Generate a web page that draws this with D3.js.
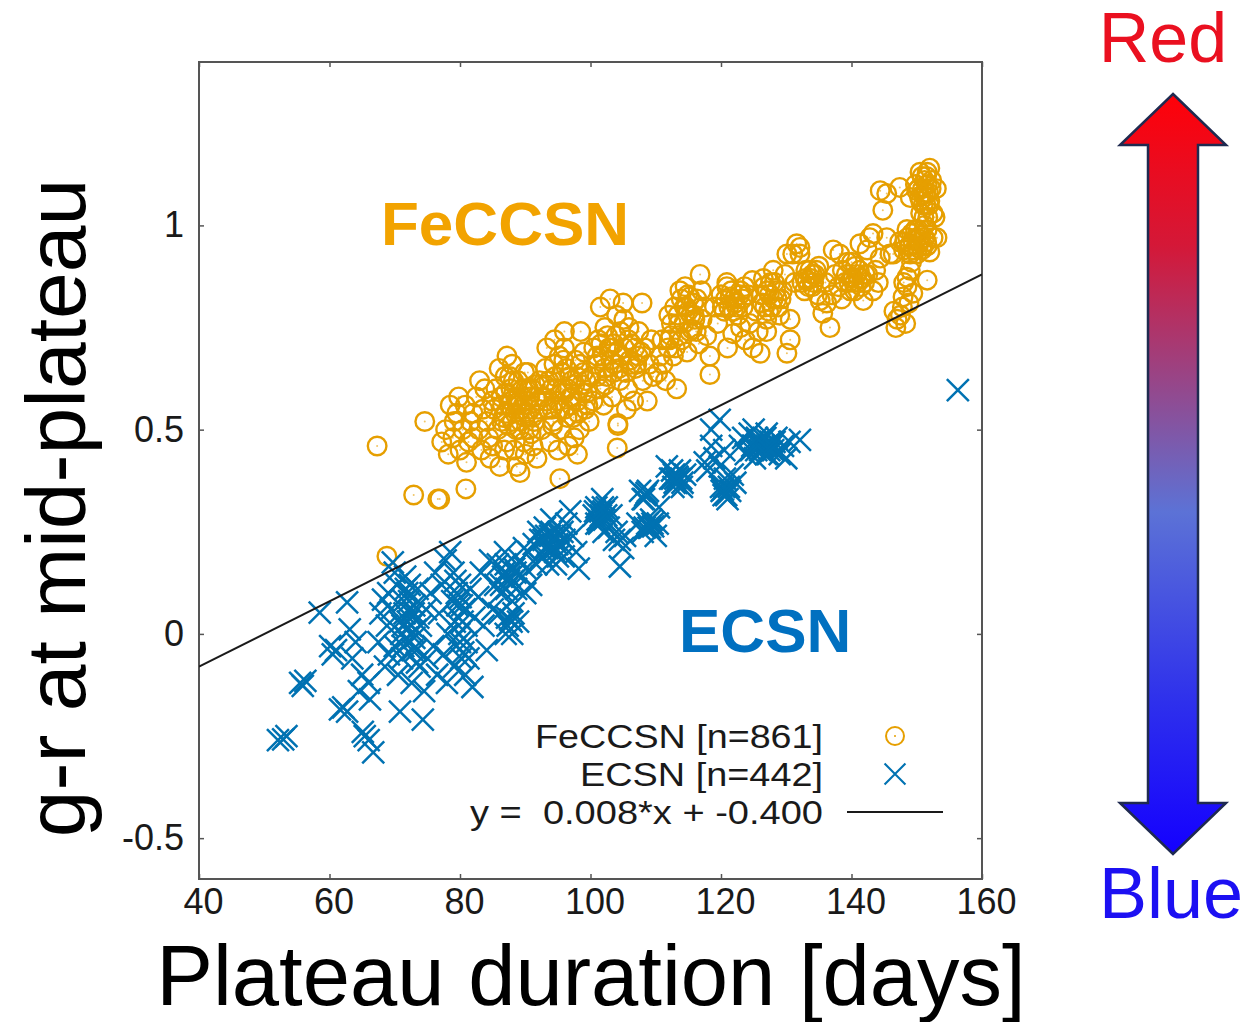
<!DOCTYPE html>
<html><head><meta charset="utf-8">
<script src="https://cdn.jsdelivr.net/npm/d3@7"></script>
<style>
html,body{margin:0;padding:0;background:#fff;}
svg{display:block;font-family:"Liberation Sans",Arial,Helvetica,sans-serif;}
</style></head>
<body>
<svg id="chart" width="1248" height="1022"></svg>
<script>
// ---------- data ----------
const xTicks = [40, 60, 80, 100, 120, 140, 160];
const yTicks = [-0.5, 0, 0.5, 1];
const xTickLabels = ["40", "60", "80", "100", "120", "140", "160"];
const yTickLabels = ["-0.5", "0", "0.5", "1"];
const fitSlope = 0.008;
const fitIntercept = -0.400;
const legendLabels = ["FeCCSN [n=861]", "ECSN [n=442]", "y =  0.008*x + -0.400"];

// FeCCSN: [plateau duration, g-r]
const feccsn = [
[67.3,0.46],[74.6,0.52],[72.9,0.34],[76.6,0.33],[76.9,0.33],[80.9,0.355],[68.8,0.19],[95.3,0.38],[104.1,0.455],[104.2,0.51],
[77.2,0.47],[77.8,0.50],[78.2,0.44],[78.9,0.48],[79.5,0.54],[79.1,0.52],[80.0,0.45],[80.4,0.50],[80.8,0.56],[81.3,0.47],[81.6,0.52],[82.0,0.54],[82.0,0.48],[82.5,0.58],[82.9,0.50],[83.3,0.45],[83.8,0.60],[83.5,0.55],[84.1,0.52],[84.4,0.48],[84.6,0.43],[84.9,0.57],[79.8,0.58],[81.0,0.42],[78.5,0.56],[83.0,0.62],
[85.2,0.55],[85.5,0.60],[85.8,0.50],[86.1,0.41],[86.3,0.58],[86.6,0.53],[86.9,0.63],[87.2,0.68],[87.2,0.47],[87.5,0.56],[87.8,0.60],[88.0,0.52],[88.3,0.45],[88.5,0.58],[88.7,0.41],[88.7,0.565],[88.9,0.62],[89.1,0.50],[89.2,0.395],[89.4,0.55],[89.6,0.60],[89.8,0.47],[90.0,0.53],[90.2,0.57],[90.4,0.64],[90.6,0.50],[90.8,0.55],[91.0,0.60],[91.2,0.46],[91.4,0.52],[91.6,0.58],[91.8,0.43],[92.0,0.55],[92.2,0.62],[86.0,0.65],[88.0,0.66],[90.0,0.44],[89.0,0.57],[87.0,0.54],[90.5,0.60],[85.0,0.46],[86.8,0.45],
[92.5,0.50],[92.8,0.58],[93.1,0.65],[93.3,0.70],[93.5,0.55],[93.8,0.47],[94.0,0.60],[94.3,0.52],[94.6,0.63],[94.9,0.57],[95.2,0.68],[95.4,0.50],[95.7,0.60],[96.0,0.55],[96.3,0.65],[96.6,0.46],[96.9,0.58],[97.1,0.62],[97.4,0.53],[97.7,0.67],[98.0,0.57],[98.3,0.50],[98.6,0.61],[98.9,0.64],[99.2,0.55],[99.5,0.59],[99.8,0.52],[100.1,0.63],[100.4,0.57],[94.5,0.72],[96.0,0.70],[97.5,0.48],[95.0,0.45],[98.0,0.44],[99.0,0.69],[93.0,0.61],[96.5,0.60],[97.0,0.56],
[100.5,0.70],[100.8,0.66],[101.2,0.72],[101.5,0.60],[101.9,0.68],[102.2,0.75],[102.5,0.63],[102.8,0.70],[103.0,0.70],[103.3,0.58],[103.6,0.66],[103.9,0.73],[104.2,0.515],[104.5,0.62],[104.8,0.68],[105.1,0.77],[105.4,0.64],[105.7,0.60],[106.0,0.67],[106.3,0.71],[106.6,0.57],[106.9,0.65],[107.1,0.66],[107.4,0.74],[107.7,0.69],[108.0,0.62],[108.3,0.70],[108.7,0.57],[109.0,0.66],[109.3,0.72],[109.6,0.63],[102.0,0.56],[104.0,0.78],[105.5,0.55],[101.0,0.63],[103.5,0.64],
[107.9,0.81],[101.5,0.80],[103.0,0.82],[98.5,0.74],[105.0,0.81],[96.0,0.74],
[110.3,0.64],[110.7,0.68],[111.1,0.66],[111.5,0.62],[111.9,0.70],[112.3,0.73],[112.7,0.68],[113.2,0.60],[113.5,0.76],[113.7,0.84],[114.0,0.72],[114.4,0.80],[114.8,0.69],[115.2,0.825],[115.2,0.74],[115.6,0.745],[115.9,0.78],[116.3,0.82],[116.6,0.71],[116.8,0.88],[117.1,0.77],[117.5,0.80],[117.8,0.73],[118.3,0.68],[118.3,0.635],[112.0,0.78],[114.5,0.85],[116.0,0.77],[113.0,0.70],[115.0,0.79],[111.0,0.72],[117.0,0.84],
[119.0,0.80],[119.5,0.76],[120.0,0.83],[120.5,0.79],[120.9,0.86],[120.9,0.85],[121.4,0.825],[121.8,0.735],[122.2,0.81],[122.6,0.78],[123.0,0.84],[123.4,0.80],[123.7,0.72],[124.1,0.83],[124.4,0.76],[124.8,0.865],[124.9,0.70],[125.3,0.79],[125.7,0.74],[126.0,0.687],[126.3,0.81],[126.6,0.85],[127.0,0.77],[127.4,0.83],[127.8,0.80],[128.2,0.86],[128.6,0.82],[129.0,0.78],[129.4,0.84],[129.8,0.88],[130.1,0.687],[130.1,0.93],[130.6,0.77],[130.6,0.72],[131.0,0.93],[131.3,0.86],[121.0,0.70],[123.0,0.75],[127.0,0.74],[128.0,0.89],
[131.6,0.955],[132.1,0.946],[132.1,0.93],[132.4,0.86],[132.8,0.84],[133.2,0.865],[133.6,0.89],[134.0,0.85],[134.4,0.88],[134.8,0.83],[135.2,0.816],[135.6,0.785],[136.0,0.86],[136.2,0.81],[136.7,0.75],[137.2,0.94],[137.5,0.88],[138.0,0.85],[138.2,0.93],[138.6,0.89],[139.0,0.86],[139.4,0.91],[139.8,0.84],[140.2,0.873],[140.6,0.90],[141.0,0.86],[141.3,0.955],[141.8,0.816],[142.1,0.88],[142.4,0.94],[142.8,0.97],[143.3,0.98],[143.3,0.84],[143.7,0.89],[144.1,0.86],[144.4,0.92],[138.5,0.82],[140.0,0.91],[135.0,0.90],[137.0,0.83],
[144.4,1.085],[144.8,1.037],[145.4,1.078],[145.4,0.97],[145.9,0.93],[146.4,0.93],[147.4,1.093],[149.0,1.068],[152.0,1.14],[151.6,1.13],[151.6,1.10],[151.8,1.08],[151.4,1.05],[151.7,1.02],[151.6,0.99],[152.3,1.11],[152.5,1.03],[150.8,1.12],[150.3,1.09],[150.0,1.085],[150.6,1.06],[149.8,1.10],[151.0,1.075],[152.0,1.06],[151.2,1.00],
[147.4,0.96],[148.0,0.94],[148.6,0.97],[149.0,0.95],[149.4,0.963],[149.8,0.99],[150.2,0.945],[150.6,0.975],[151.0,0.95],[151.5,0.96],[152.0,0.935],[152.5,0.97],[153.1,0.97],[148.5,0.99],[150.0,0.93],
[149.0,0.89],[148.5,0.873],[148.5,0.85],[147.9,0.825],[149.4,0.834],[151.6,0.866],[147.0,0.77],[146.5,0.79],[147.8,0.80],[148.3,0.76],[146.8,0.75],[147.5,0.78],[148.8,0.81],[148.0,0.86],[149.2,0.91],
[152.8,1.02],[153.0,1.09],[150.5,1.13],
[86.5,0.56],[87.0,0.59],[87.4,0.51],[87.9,0.57],[88.2,0.62],[88.4,0.54],[88.9,0.58],[89.3,0.52],[89.7,0.56],[90.1,0.60],[90.3,0.54],[90.7,0.58],[91.1,0.53],[91.5,0.61],[89.9,0.64],[88.6,0.50],[87.6,0.63],[86.4,0.52],[90.9,0.49],[91.9,0.57],
[93.2,0.57],[93.6,0.62],[94.1,0.55],[94.4,0.66],[94.8,0.60],[95.3,0.55],[95.6,0.64],[96.1,0.59],[96.4,0.53],[96.8,0.63],[97.2,0.58],[97.6,0.61],[98.1,0.54],[98.4,0.66],[98.8,0.59],[99.3,0.62],[99.6,0.56],[95.9,0.67],[97.9,0.63],[94.2,0.51],
[101.0,0.68],[101.6,0.71],[102.1,0.65],[102.6,0.73],[103.1,0.67],[103.6,0.71],[104.1,0.69],[104.6,0.74],[105.2,0.70],[105.8,0.72],[106.2,0.66],[106.8,0.70],[107.3,0.68],[104.4,0.65],[102.3,0.61],[105.9,0.75],
[112.4,0.76],[112.9,0.80],[113.4,0.78],[113.9,0.82],[114.3,0.76],[114.7,0.80],[115.4,0.78],[115.8,0.81],[116.2,0.74],[113.6,0.73],[114.9,0.83],[112.1,0.72],
[120.2,0.80],[120.7,0.82],[121.2,0.80],[121.6,0.84],[122.0,0.82],[122.4,0.80],[122.9,0.83],[123.3,0.82],[121.9,0.79],[123.6,0.85],
[126.2,0.83],[126.7,0.80],[127.1,0.84],[127.6,0.86],[128.0,0.82],[128.4,0.84],[128.8,0.80],[127.3,0.79],[126.5,0.87],[129.2,0.82],
[132.9,0.87],[133.4,0.85],[133.8,0.87],[134.2,0.86],[134.6,0.89],[133.0,0.89],[134.0,0.88],
[139.2,0.88],[139.6,0.86],[140.0,0.87],[140.4,0.86],[140.8,0.88],[141.2,0.89],[141.6,0.87],[142.0,0.86],[142.5,0.88],[140.5,0.84],[141.5,0.85],
[148.2,0.96],[148.8,0.95],[149.2,0.98],[149.6,0.94],[150.0,0.97],[150.4,0.96],[150.8,0.94],[151.2,0.97],[151.6,0.95],[149.0,0.93],[150.2,0.99],
[150.6,1.03],[151.0,1.05],[151.4,1.08],[151.2,1.11],[150.9,1.09],[151.9,1.05],[152.2,1.09],[151.5,1.12],[150.4,1.07],[151.1,1.02]
];

// ECSN: [plateau duration, g-r]
const ecsn = [
[52.1,-0.26],[52.9,-0.258],[53.4,-0.25],[55.5,-0.12],[55.9,-0.127],[56.3,-0.115],[58.5,0.052],[60.1,-0.03],[60.5,-0.05],[61.0,-0.04],[61.6,-0.185],[62.1,-0.18],[62.7,-0.19],[62.7,0.077],[63.1,0.011],[63.5,-0.06],[64.0,-0.02],[65.1,-0.24],[65.4,-0.25],[66.0,-0.26],[66.7,-0.29],[66.2,-0.16],[66.0,-0.12],[65.0,-0.10],[64.5,-0.14],[156.3,0.597],
[67.5,-0.02],[67.8,0.05],[68.2,0.084],[68.5,-0.08],[68.8,0.02],[69.1,-0.05],[69.4,0.06],[69.7,0.175],[70.0,-0.03],[70.3,0.12],[70.5,-0.10],[70.8,-0.19],[70.8,0.03],[71.1,-0.06],[71.4,0.08],[71.6,0.14],[71.9,0.10],[72.1,-0.02],[72.4,0.05],[72.6,-0.12],[72.8,0.004],[73.0,0.07],[73.3,-0.04],[73.5,0.11],[73.8,-0.08],[74.0,0.02],[74.3,-0.21],[74.5,-0.14],[74.8,0.06],[75.0,-0.06],[71.0,0.00],[72.0,0.03],[73.0,-0.01],[69.0,0.10],[70.0,0.15],
[75.5,0.10],[75.9,-0.03],[76.2,0.15],[76.5,-0.10],[76.8,0.05],[77.2,0.12],[77.5,-0.05],[77.8,0.18],[78.1,0.00],[78.5,0.20],[78.8,0.08],[79.1,-0.08],[79.3,0.13],[79.5,0.10],[79.8,0.04],[80.0,-0.02],[80.3,0.07],[80.5,-0.045],[80.8,-0.10],[81.0,0.02],[81.3,-0.06],[81.6,0.11],[81.9,-0.13],[82.2,0.04],[79.0,0.15],[80.0,0.12],[78.0,-0.12],[81.0,-0.02],
[82.8,0.09],[83.2,0.15],[83.6,0.02],[84.1,-0.04],[84.6,0.18],[85.0,0.06],[85.4,0.12],[85.8,0.17],[86.2,0.10],[86.6,0.14],[86.9,0.20],[87.2,0.04],[87.5,0.13],[87.7,0.035],[88.0,0.00],[88.3,0.16],[88.6,0.11],[88.9,0.03],[89.2,0.18],[89.5,0.14],[89.8,0.21],[90.1,0.16],[90.5,0.20],[90.9,0.12],[91.3,0.22],[91.7,0.17],[92.0,0.25],[92.3,0.23],[86.0,0.05],[88.0,0.08],[90.0,0.10],[87.0,0.17],
[92.6,0.19],[93.0,0.26],[93.4,0.21],[93.8,0.24],[94.3,0.206],[94.7,0.17],[95.1,0.25],[95.5,0.22],[95.9,0.19],[96.3,0.27],[96.9,0.30],[97.3,0.24],[97.8,0.20],[98.2,0.16],[94.0,0.28],[95.0,0.19],[96.0,0.23],[93.5,0.17],
[100.5,0.29],[100.9,0.31],[101.3,0.27],[101.5,0.30],[101.8,0.33],[102.1,0.28],[102.5,0.31],[102.8,0.26],[103.2,0.29],[103.6,0.23],[104.0,0.25],[104.5,0.23],[104.5,0.165],[105.0,0.21],[105.3,0.24],[102.0,0.25],
[107.2,0.27],[107.6,0.35],[108.0,0.33],[108.6,0.345],[108.9,0.26],[109.3,0.28],[109.6,0.263],[110.0,0.24],[110.3,0.27],[108.0,0.25],[110.5,0.31],
[111.7,0.41],[112.2,0.38],[112.7,0.36],[113.0,0.38],[113.3,0.385],[113.7,0.40],[114.1,0.37],[114.5,0.39],[112.5,0.40],[114.0,0.36],
[117.5,0.42],[117.9,0.40],[118.5,0.46],[119.0,0.43],[119.8,0.524],[119.8,0.41],[120.0,0.36],[120.3,0.353],[120.6,0.38],[121.0,0.33],[121.4,0.35],[121.8,0.39],[120.5,0.45],[118.5,0.50],[122.2,0.37],
[122.9,0.46],[123.4,0.48],[123.8,0.44],[124.4,0.49],[124.8,0.46],[125.2,0.43],[125.6,0.47],[126.0,0.45],[126.4,0.458],[126.8,0.48],[127.2,0.44],[127.6,0.47],[128.0,0.45],[128.5,0.48],[129.0,0.44],[129.5,0.46],[130.0,0.43],[130.5,0.47],[132.1,0.475],[125.0,0.50],[127.0,0.49],
[71.2,0.02],[71.5,0.05],[71.8,-0.01],[72.2,0.08],[72.5,0.02],[72.9,0.05],[73.2,0.01],[73.6,0.04],[71.7,0.11],[72.3,0.12],[73.4,-0.07],[72.7,-0.04],[71.3,-0.03],
[79.2,0.03],[79.6,0.07],[80.1,0.09],[80.4,0.03],[80.7,0.06],[79.9,0.00],[80.2,-0.06],[79.4,-0.03],
[86.3,0.12],[86.8,0.15],[87.1,0.11],[87.6,0.14],[88.1,0.13],[88.5,0.15],[87.3,0.02],[87.9,0.03],[88.2,0.05],[87.0,0.00],
[92.8,0.23],[93.2,0.24],[93.6,0.22],[94.0,0.25],[94.5,0.23],[94.9,0.22],[95.3,0.24],[95.7,0.25],[93.0,0.21],[94.6,0.20],
[100.7,0.30],[101.1,0.28],[101.6,0.29],[102.0,0.30],[102.4,0.29],[101.9,0.31],[100.9,0.27],
[108.3,0.26],[108.7,0.27],[109.1,0.26],[109.5,0.27],[108.4,0.34],[108.8,0.35],[108.2,0.33],
[112.5,0.38],[112.9,0.37],[113.5,0.38],[113.9,0.38],[112.8,0.39],[113.2,0.37],
[120.1,0.35],[120.5,0.36],[120.8,0.34],[121.2,0.36],[120.4,0.34],
[124.6,0.45],[125.0,0.46],[125.4,0.45],[125.8,0.46],[126.2,0.47],[126.6,0.46],[127.0,0.46],[127.4,0.45],[127.8,0.46],[128.2,0.47],[125.5,0.48],[126.9,0.44]
];

// ---------- drawing ----------
const svg = d3.select("#chart");
svg.append("rect").attr("width", 1248).attr("height", 1022).attr("fill", "#fff");

const plot = {left: 199, right: 982, top: 62, bottom: 879};
const x = d3.scaleLinear().domain([40, 160]).range([plot.left, plot.right]);
const y = d3.scaleLinear().domain([-0.6, 1.4]).range([plot.bottom, plot.top]);

const ORANGE = "#E69F00", BLUE = "#0072B2";

svg.append("defs").append("clipPath").attr("id", "clip")
  .append("rect").attr("x", plot.left).attr("y", plot.top)
  .attr("width", plot.right - plot.left).attr("height", plot.bottom - plot.top);

// axes
const tickCol = "#555";
const gx = svg.append("g").attr("transform", `translate(0,${plot.bottom})`)
  .call(d3.axisBottom(x).tickValues(xTicks).tickSize(-5).tickPadding(9)
        .tickFormat((d, i) => xTickLabels[i]));
const gxt = svg.append("g").attr("transform", `translate(0,${plot.top})`)
  .call(d3.axisTop(x).tickValues(xTicks).tickSize(-5).tickFormat(""));
const gy = svg.append("g").attr("transform", `translate(${plot.left},0)`)
  .call(d3.axisLeft(y).tickValues(yTicks).tickSize(-5).tickPadding(15)
        .tickFormat((d, i) => yTickLabels[i]));
const gyr = svg.append("g").attr("transform", `translate(${plot.right},0)`)
  .call(d3.axisRight(y).tickValues(yTicks).tickSize(-5).tickFormat(""));
[gx, gxt, gy, gyr].forEach(g => {
  g.select(".domain").remove();
  g.selectAll(".tick line").attr("stroke", tickCol).attr("stroke-width", 1.5);
  g.selectAll(".tick text").attr("font-size", 36).attr("fill", "#1a1a1a")
    .attr("font-family", '"Liberation Sans",Arial,sans-serif');
});
gx.selectAll(".tick text").attr("dx", 4);

// frame
svg.append("rect").attr("x", plot.left).attr("y", plot.top)
  .attr("width", plot.right - plot.left).attr("height", plot.bottom - plot.top)
  .attr("fill", "none").attr("stroke", "#555").attr("stroke-width", 2);

const pts = svg.append("g").attr("clip-path", "url(#clip)");

// FeCCSN circles
const fe = pts.append("g");
fe.selectAll("circle.m").data(feccsn).join("circle").attr("class", "m")
  .attr("cx", d => x(d[0])).attr("cy", d => y(d[1])).attr("r", 9.3)
  .attr("fill", "none").attr("stroke", ORANGE).attr("stroke-width", 2.4);
fe.selectAll("circle.c").data(feccsn).join("circle").attr("class", "c")
  .attr("cx", d => x(d[0])).attr("cy", d => y(d[1])).attr("r", 1)
  .attr("fill", ORANGE).attr("opacity", 0.6);

// ECSN crosses
const cross = "M-11,-11L11,11M-11,11L11,-11";
pts.append("g").selectAll("path").data(ecsn).join("path")
  .attr("d", cross)
  .attr("transform", d => `translate(${x(d[0])},${y(d[1])})`)
  .attr("fill", "none").attr("stroke", BLUE).attr("stroke-width", 2.5);

// fit line
const fitX = x.domain();
pts.append("path")
  .datum(fitX.map(v => [v, fitSlope * v + fitIntercept]))
  .attr("d", d3.line().x(d => x(d[0])).y(d => y(d[1])))
  .attr("stroke", "#1a1a1a").attr("stroke-width", 2).attr("fill", "none");

// in-plot labels
svg.append("text").attr("x", 381).attr("y", 245).text("FeCCSN")
  .attr("font-size", 62).attr("font-weight", "bold").attr("fill", "#F2A300");
svg.append("text").attr("x", 679).attr("y", 652).text("ECSN")
  .attr("font-size", 62).attr("font-weight", "bold").attr("fill", "#0070C0");

// legend
const legX = 823, legRows = [736, 774, 812], legLen = [288, 243, 353];
const leg = svg.append("g");
legendLabels.forEach((t, i) => {
  leg.append("text").attr("x", legX).attr("y", legRows[i] + 12)
    .attr("text-anchor", "end").attr("font-size", 34).attr("fill", "#1a1a1a")
    .attr("textLength", legLen[i]).attr("lengthAdjust", "spacingAndGlyphs")
    .style("white-space", "pre").text(t);
});
leg.append("circle").attr("cx", 895).attr("cy", legRows[0]).attr("r", 9)
  .attr("fill", "none").attr("stroke", ORANGE).attr("stroke-width", 2);
leg.append("circle").attr("cx", 895).attr("cy", legRows[0]).attr("r", 1).attr("fill", ORANGE);
leg.append("path").attr("d", cross).attr("transform", `translate(895,${legRows[1]}) scale(0.95)`)
  .attr("stroke", BLUE).attr("stroke-width", 2.2).attr("fill", "none");
leg.append("line").attr("x1", 847).attr("x2", 943).attr("y1", legRows[2]).attr("y2", legRows[2])
  .attr("stroke", "#1a1a1a").attr("stroke-width", 2);

// axis titles
svg.append("text").attr("x", 591).attr("y", 1005).attr("text-anchor", "middle")
  .attr("font-size", 85).attr("fill", "#000").text("Plateau duration [days]");
svg.append("text").attr("transform", "translate(85,508) rotate(-90)").attr("text-anchor", "middle")
  .attr("font-size", 84).attr("fill", "#000").text("g-r at mid-plateau");

// colour arrow
const grad = svg.select("defs").append("linearGradient").attr("id", "arrowGrad")
  .attr("gradientUnits", "userSpaceOnUse").attr("x1", 0).attr("y1", 94).attr("x2", 0).attr("y2", 854);
[[0, "#FF0008"], [0.2, "#D41838"], [0.55, "#5C72D6"], [0.8, "#2E30EC"], [1, "#1400FF"]]
  .forEach(([o, c]) => grad.append("stop").attr("offset", o).attr("stop-color", c));
const ax = 1173;
const arrowPts = [[ax, 94], [ax + 53, 145], [ax + 25, 145], [ax + 25, 803], [ax + 53, 803], [ax, 854],
                  [ax - 53, 803], [ax - 25, 803], [ax - 25, 145], [ax - 53, 145]];
svg.append("path").attr("d", d3.line()(arrowPts) + "Z")
  .attr("fill", "url(#arrowGrad)").attr("stroke", "#1F2A50").attr("stroke-width", 2.5)
  .attr("stroke-linejoin", "miter");
svg.append("text").attr("x", 1163).attr("y", 62).attr("text-anchor", "middle")
  .attr("font-size", 70).attr("fill", "#EA1020").text("Red");
svg.append("text").attr("x", 1171).attr("y", 918).attr("text-anchor", "middle")
  .attr("font-size", 72).attr("fill", "#1C10F2").text("Blue");
</script>
</body></html>
